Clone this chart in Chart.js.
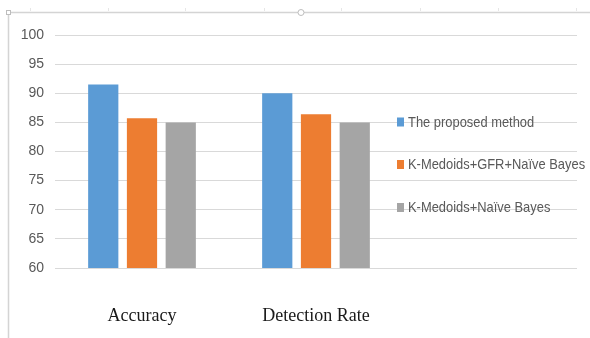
<!DOCTYPE html>
<html>
<head>
<meta charset="utf-8">
<script src="https://cdn.jsdelivr.net/npm/chart.js@4/dist/chart.umd.min.js"></script>
<style>
  html, body { margin: 0; padding: 0; background: #ffffff; }
  #wrap { width: 590px; height: 338px; position: relative; }
</style>
</head>
<body>
<div id="wrap"><canvas id="chart" width="590" height="338"></canvas></div>
<script>
// Categories (third slot left empty: the legend sits there)
const categories = ['Accuracy', 'Detection Rate', ''];

// Series values (%)
const proposedMethod = [91.5, 90.0, null];
const kMedoidsGfrNaiveBayes = [85.7, 86.4, null];
const kMedoidsNaiveBayes = [85.0, 85.0, null];

const seriesNames = ['The proposed method', 'K-Medoids+GFR+Naïve Bayes', 'K-Medoids+Naïve Bayes'];
const seriesColors = ['#5B9BD5', '#ED7D31', '#A5A5A5'];

// Value axis
const yMin = 60;
const yMax = 100;
const yStep = 5;

const sansFont = "'Liberation Sans', Arial, sans-serif";

// Legend drawn over the empty category area, without background
const inlineLegend = {
  id: 'inlineLegend',
  afterDatasetsDraw(chart) {
    const ctx = chart.ctx;
    const x0 = 397;
    const rows = [122, 164.5, 207.5];
    const squeeze = 0.86;
    ctx.save();
    ctx.font = '15px ' + sansFont;
    ctx.textBaseline = 'middle';
    ctx.textAlign = 'left';
    chart.data.datasets.forEach((ds, i) => {
      const y = rows[i];
      ctx.fillStyle = ds.backgroundColor;
      ctx.fillRect(x0, y - 4.5, 7, 9);
      ctx.fillStyle = '#595959';
      ctx.save();
      ctx.translate(x0 + 11, y + 0.5);
      ctx.scale(squeeze, 1);
      ctx.fillText(ds.label, 0, 0);
      ctx.restore();
    });
    ctx.restore();
  }
};

// Outer frame of the chart object
const chartFrame = {
  id: 'chartFrame',
  afterDraw(chart) {
    const ctx = chart.ctx;
    ctx.save();
    ctx.strokeStyle = '#d4d4d4';
    ctx.lineWidth = 1.5;
    ctx.beginPath();
    ctx.moveTo(8.5, 338);
    ctx.lineTo(8.5, 12.5);
    ctx.lineTo(590, 12.5);
    ctx.stroke();
    // small ruler ticks on top edge
    ctx.strokeStyle = '#e6e6e6';
    ctx.lineWidth = 1;
    [30, 108, 185, 264, 341, 420, 498, 576].forEach(x => {
      ctx.beginPath();
      ctx.moveTo(x + 0.5, 8);
      ctx.lineTo(x + 0.5, 11);
      ctx.stroke();
    });
    // handles
    ctx.fillStyle = '#ffffff';
    ctx.strokeStyle = '#bdbdbd';
    ctx.beginPath();
    ctx.arc(301, 12.5, 3, 0, Math.PI * 2);
    ctx.fill();
    ctx.stroke();
    ctx.fillRect(6, 10, 5, 5);
    ctx.strokeRect(6.5, 10.5, 4, 4);
    ctx.restore();
  }
};

const datasets = [proposedMethod, kMedoidsGfrNaiveBayes, kMedoidsNaiveBayes].map((vals, i) => ({
  label: seriesNames[i],
  data: vals,
  backgroundColor: seriesColors[i],
  borderWidth: 0,
  barPercentage: 0.78,
  categoryPercentage: 0.668
}));

new Chart(document.getElementById('chart'), {
  type: 'bar',
  data: { labels: categories, datasets },
  options: {
    responsive: false,
    animation: false,
    devicePixelRatio: 1,
    layout: { padding: { left: 0, right: 13, top: 35, bottom: 0 } },
    plugins: {
      legend: { display: false },
      tooltip: { enabled: false }
    },
    scales: {
      x: {
        grid: { display: false, drawTicks: false },
        border: { display: false },
        ticks: {
          padding: 37,
          color: '#1a1a1a',
          font: { family: "'Liberation Serif', 'Times New Roman', serif", size: 18 }
        },
        afterFit(scale) { scale.height = 70; }
      },
      y: {
        min: yMin,
        max: yMax,
        grid: { color: '#d9d9d9', lineWidth: 1, drawTicks: false },
        border: { display: false },
        ticks: {
          stepSize: yStep,
          padding: 11,
          color: '#595959',
          font: { family: sansFont, size: 14 }
        },
        afterFit(scale) { scale.width = 55; }
      }
    }
  },
  plugins: [inlineLegend, chartFrame]
});
</script>
</body>
</html>
